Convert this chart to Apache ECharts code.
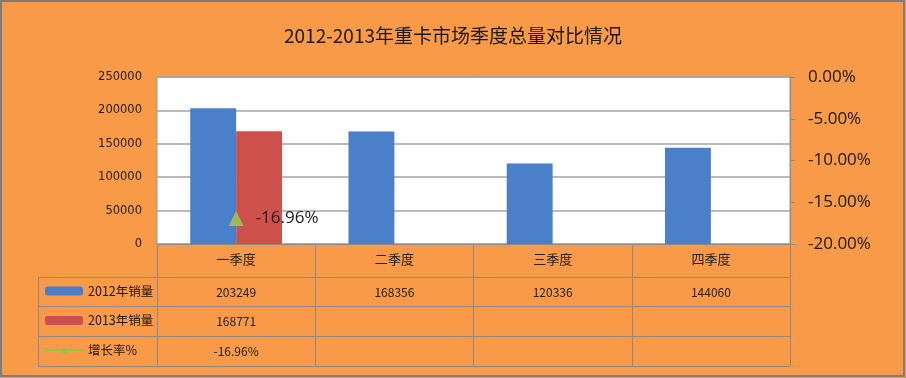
<!DOCTYPE html>
<html><head><meta charset="utf-8">
<script src="https://cdn.jsdelivr.net/npm/echarts@6/dist/echarts.min.js"></script>
<style>html,body{margin:0;padding:0;background:#F99A48;}#c{width:906px;height:378px;}</style>
</head><body><div id="c"></div>
<script>
const title = '2012-2013年重卡市场季度总量对比情况';
const categories = ['一季度', '二季度', '三季度', '四季度'];
const seriesNames = ['2012年销量', '2013年销量', '增长率%'];
const sales2012 = [203249, 168356, 120336, 144060];
const sales2013 = [168771, null, null, null];
const growth = [-16.96, null, null, null];
const leftTicks = [0, 250000, 50000];
const rightTicks = [-20, 0, 5];

const CJK = '"Noto Sans CJK SC", "Noto Sans", sans-serif';
const GRID = '#8a8a8a';
const chart = echarts.init(document.getElementById('c'), null, {renderer: 'canvas'});

function rowAxis(idx, offset, values, fmt, tickLen) {
  return {
    type: 'category', data: categories, position: 'bottom', offset: offset, gridIndex: 0,
    axisLine: {show: true, onZero: false, lineStyle: {color: GRID, width: 1}},
    axisTick: {show: tickLen > 0, length: tickLen, lineStyle: {color: GRID, width: 1}},
    axisLabel: {show: values !== null, margin: 9, fontSize: idx === 0 ? 13 : 12, color: '#222', fontFamily: CJK,
      formatter: function (v, i) { if (values === null) return ''; const d = values[i]; return d === null || d === undefined ? '' : fmt(d); }},
    splitLine: {show: false}
  };
}

const option = {
  backgroundColor: '#F99A48',
  animation: false,
  title: {text: title, left: 'center', top: 21, textStyle: {fontSize: 19, fontWeight: 'normal', color: '#1a1a1a', fontFamily: CJK}},
  grid: {left: 157, right: 116, top: 77, bottom: 134, show: true, backgroundColor: '#ffffff', borderColor: '#9a9a9a', borderWidth: 1},
  legend: {
    orient: 'vertical', left: 44, top: 284, padding: 0, itemWidth: 38, itemHeight: 9, itemGap: 15.5,
    data: seriesNames,
    textStyle: {fontSize: 12.5, color: '#1a1a1a', fontFamily: CJK, lineHeight: 14}
  },
  xAxis: [
    rowAxis(0, 0, categories, function (d) { return d; }, 33),
    rowAxis(1, 33, sales2012, function (d) { return String(d); }, 29),
    rowAxis(2, 62, sales2013, function (d) { return String(d); }, 30),
    rowAxis(3, 92, growth, function (d) { return d.toFixed(2) + '%'; }, 30),
    rowAxis(4, 122, null, null, 0)
  ],
  yAxis: [
    {type: 'value', min: leftTicks[0], max: leftTicks[1], interval: leftTicks[2],
      axisLine: {show: false}, axisTick: {show: false},
      axisLabel: {fontSize: 11.5, color: '#222', margin: 15, fontFamily: '"DejaVu Sans", sans-serif',
        formatter: function (v) { return String(v); }},
      splitLine: {show: true, lineStyle: {color: '#a3a3a3', width: 1.5}}},
    {type: 'value', min: rightTicks[0], max: rightTicks[1], interval: rightTicks[2], position: 'right',
      axisLine: {show: true, onZero: false, lineStyle: {color: GRID}}, axisTick: {show: true, length: 5, lineStyle: {color: GRID}},
      axisLabel: {fontSize: 17, color: '#1a1a1a', margin: 18, fontFamily: '"Open Sans", "Noto Sans", sans-serif',
        formatter: function (v) { return v.toFixed(2) + '%'; }},
      splitLine: {show: false}}
  ],
  series: [
    {name: seriesNames[0], type: 'bar', data: sales2012, xAxisIndex: 0, yAxisIndex: 0,
      barGap: '0%', barCategoryGap: '42%', itemStyle: {color: '#4A7FCA'}},
    {name: seriesNames[1], type: 'bar', data: sales2013, xAxisIndex: 0, yAxisIndex: 0,
      itemStyle: {color: '#CE504B'}},
    {name: seriesNames[2], type: 'line', data: growth, xAxisIndex: 0, yAxisIndex: 1,
      symbol: 'triangle', symbolSize: 15, lineStyle: {color: '#8CC84B', width: 2},
      itemStyle: {color: '#9BBB59'},
      label: {show: true, position: 'right', distance: 12, fontSize: 17, color: '#222', fontFamily: '"Open Sans", "Noto Sans", sans-serif',
        formatter: function (p) { return p.value.toFixed(2) + '%'; }}}
  ]
};
chart.setOption(option);

// legend-column table lines, positioned from the chart's own axis pixels
const xL = chart.convertToPixel({xAxisIndex: 0}, categories[0]) - (chart.convertToPixel({xAxisIndex: 0}, categories[1]) - chart.convertToPixel({xAxisIndex: 0}, categories[0])) / 2;
const yBase = chart.convertToPixel({yAxisIndex: 0}, 0);
const rowOffsets = [33, 62, 92, 122];
const tableLeft = 38;
const g = rowOffsets.map(function (o) {
  return {type: 'line', shape: {x1: tableLeft, y1: yBase + o + 0.5, x2: xL, y2: yBase + o + 0.5}, style: {stroke: GRID, lineWidth: 1}, silent: true};
});
g.push({type: 'line', shape: {x1: tableLeft + 0.5, y1: yBase + rowOffsets[0], x2: tableLeft + 0.5, y2: yBase + rowOffsets[3]}, style: {stroke: GRID, lineWidth: 1}, silent: true});
g.push({type: 'rect', shape: {x: 1, y: 1, width: 903, height: 375}, style: {fill: 'none', stroke: '#7d7d7d', lineWidth: 2}, silent: true});
chart.setOption({graphic: g});
</script></body></html>
